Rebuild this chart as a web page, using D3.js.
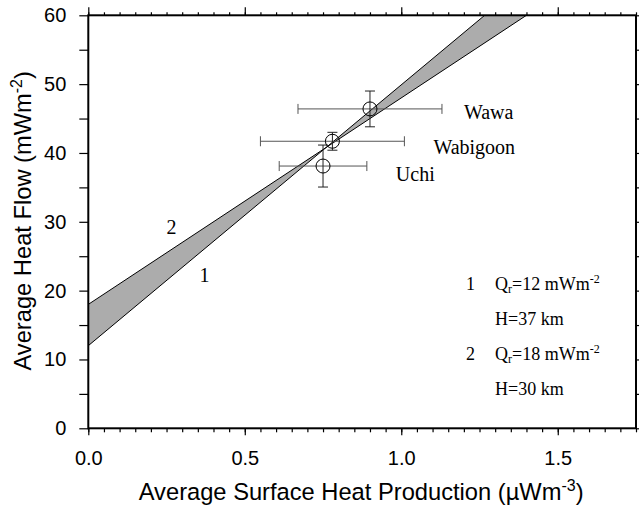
<!DOCTYPE html>
<html lang="en">
<head>
<meta charset="UTF-8">
<script src="https://d3js.org/d3.v7.min.js"></script>
<style>
  body { margin: 0; background: #fff; }
  .tick text { font-family: "Liberation Sans", Arial, sans-serif; font-size: 20px; fill: #000; }
  .title { font-family: "Liberation Sans", Arial, sans-serif; font-size: 23.7px; fill: #000; }
  .serif { font-family: "Liberation Serif", "Times New Roman", serif; fill: #000; }
</style>
</head>
<body>
<div id="chart"></div>
<script>
// provinces with average surface heat production and heat flow
const provinces = ["Uchi", "Wabigoon", "Wawa"];
const heatProduction = [0.75, 0.78, 0.90];
const heatProductionErr = [0.14, 0.23, 0.23];
const heatFlow = [38.1, 41.7, 46.4];
const heatFlowErr = [3.05, 1.3, 2.6];

// model lines q = Qr + slope * A
const modelIds = ["1", "2"];
const modelQr = [12, 18];
const modelSlope = [37.9, 30.0];
const modelH = [37, 30];

const xTicks = [0, 0.5, 1.0, 1.5];
const yTicks = [0, 10, 20, 30, 40, 50, 60];

const W = 639, H = 506;
const margin = { top: 15.3, right: 3, bottom: 77.7, left: 88.3 };
const innerW = W - margin.left - margin.right;
const innerH = H - margin.top - margin.bottom;

const svg = d3.select("#chart").append("svg")
    .attr("width", W).attr("height", H);

const g = svg.append("g")
    .attr("transform", `translate(${margin.left},${margin.top})`);

const x = d3.scaleLinear().domain([0, 1.75]).range([0, innerW]);
const y = d3.scaleLinear().domain([0, 60]).range([innerH, 0]);

g.append("clipPath").attr("id", "plotclip")
  .append("rect").attr("width", innerW).attr("height", innerH);

// band between the two model lines
const x0 = 0, x1 = 1.75;
const line = d3.line().x(d => x(d[0])).y(d => y(d[1]));
const band = [
  [x0, modelQr[0] + modelSlope[0] * x0],
  [x1, modelQr[0] + modelSlope[0] * x1],
  [x1, modelQr[1] + modelSlope[1] * x1],
  [x0, modelQr[1] + modelSlope[1] * x0]
];
const plot = g.append("g").attr("clip-path", "url(#plotclip)");
plot.append("path")
    .attr("d", line(band) + "Z")
    .attr("fill", "#acacac")
    .attr("stroke", "none");
modelIds.forEach((id, i) => {
  plot.append("path")
      .attr("d", line([[x0, modelQr[i] + modelSlope[i] * x0], [x1, modelQr[i] + modelSlope[i] * x1]]))
      .attr("fill", "none")
      .attr("stroke", "#000")
      .attr("stroke-width", 1);
});

// line labels
g.append("text").attr("class", "serif").attr("font-size", 20)
  .attr("x", x(0.25)).attr("y", y(28.2)).text(modelIds[1]);
g.append("text").attr("class", "serif").attr("font-size", 20)
  .attr("x", x(0.355)).attr("y", y(21.2)).text(modelIds[0]);

// error bars and points
const cap = 5;
const pts = g.append("g");
provinces.forEach((name, i) => {
  const cx = x(heatProduction[i]), cy = y(heatFlow[i]);
  const xl = x(heatProduction[i] - heatProductionErr[i]);
  const xr = x(heatProduction[i] + heatProductionErr[i]);
  const yt = y(heatFlow[i] + heatFlowErr[i]);
  const yb = y(heatFlow[i] - heatFlowErr[i]);
  const hs = "#555", vs = "#222";
  pts.append("line").attr("x1", xl).attr("x2", xr).attr("y1", cy).attr("y2", cy).attr("stroke", hs);
  pts.append("line").attr("x1", xl).attr("x2", xl).attr("y1", cy - cap).attr("y2", cy + cap).attr("stroke", hs);
  pts.append("line").attr("x1", xr).attr("x2", xr).attr("y1", cy - cap).attr("y2", cy + cap).attr("stroke", hs);
  pts.append("line").attr("x1", cx).attr("x2", cx).attr("y1", yt).attr("y2", yb).attr("stroke", vs);
  pts.append("line").attr("x1", cx - cap).attr("x2", cx + cap).attr("y1", yt).attr("y2", yt).attr("stroke", vs);
  pts.append("line").attr("x1", cx - cap).attr("x2", cx + cap).attr("y1", yb).attr("y2", yb).attr("stroke", vs);
  pts.append("circle").attr("cx", cx).attr("cy", cy).attr("r", 7)
     .attr("fill", "none").attr("stroke", "#000").attr("stroke-width", 1);
});

// province labels, placed right of the error bars
const labelOffset = [[29, 15], [29, 13], [22, 10]];
provinces.forEach((name, i) => {
  g.append("text").attr("class", "serif").attr("font-size", 20)
    .attr("x", x(heatProduction[i] + heatProductionErr[i]) + labelOffset[i][0])
    .attr("y", y(heatFlow[i]) + labelOffset[i][1])
    .text(name);
});

// legend
const leg = g.append("g").attr("class", "serif").attr("font-size", 18);
modelIds.forEach((id, i) => {
  const by = 290 - margin.top + i * 70;
  leg.append("text").attr("x", 466 - margin.left).attr("y", by).text(id);
  const t = leg.append("text").attr("x", 495 - margin.left).attr("y", by);
  t.append("tspan").text("Q");
  t.append("tspan").attr("font-size", 12).attr("dy", 3).text("r");
  t.append("tspan").attr("dy", -3).text(`=${modelQr[i]} mWm`);
  t.append("tspan").attr("font-size", 12).attr("dy", -7).text("-2");
  leg.append("text").attr("x", 495 - margin.left).attr("y", by + 35).text(`H=${modelH[i]} km`);
});

// axes
g.append("g").attr("transform", `translate(0,${innerH})`)
  .call(d3.axisBottom(x).tickValues(d3.range(0, 1.751, 0.05)).tickSize(4).tickFormat(""))
  .call(a => a.select(".domain").remove());
g.append("g").attr("transform", `translate(0,${innerH})`)
  .call(d3.axisBottom(x).tickValues(xTicks).tickSize(7).tickPadding(15.5).tickFormat(d3.format(".1f")))
  .call(a => a.select(".domain").remove());
g.append("g")
  .call(d3.axisTop(x).tickValues(d3.range(0, 1.751, 0.05)).tickSize(3).tickFormat(""))
  .call(a => a.select(".domain").remove());
g.append("g")
  .call(d3.axisTop(x).tickValues(xTicks).tickSize(8).tickFormat(""))
  .call(a => a.select(".domain").remove());
g.append("g")
  .call(d3.axisLeft(y).tickValues(d3.range(0, 61, 5)).tickSize(9).tickPadding(13)
    .tickFormat(d => yTicks.includes(d) ? d : ""))
  .call(a => a.select(".domain").remove());
g.append("g").attr("transform", `translate(${innerW},0)`)
  .call(d3.axisRight(y).tickValues(d3.range(0, 61, 5)).tickSize(9).tickFormat(""))
  .call(a => a.select(".domain").remove());
g.selectAll(".tick line").attr("stroke", "#000").attr("stroke-width", 1.2);

// frame
g.append("rect").attr("width", innerW).attr("height", innerH)
  .attr("fill", "none").attr("stroke", "#000").attr("stroke-width", 2);

// axis titles
const xt = svg.append("text").attr("class", "title")
  .attr("x", margin.left + innerW / 2 - 1).attr("y", 500).attr("text-anchor", "middle");
xt.append("tspan").text("Average Surface Heat Production (\u00b5Wm");
xt.append("tspan").attr("font-size", 16).attr("dy", -9).text("-3");
xt.append("tspan").attr("dy", 9).text(")");

const yt = svg.append("text").attr("class", "title")
  .attr("transform", `translate(31,${margin.top + innerH / 2 - 1}) rotate(-90)`)
  .attr("text-anchor", "middle");
yt.append("tspan").text("Average Heat Flow (mWm");
yt.append("tspan").attr("font-size", 16).attr("dy", -9).text("-2");
yt.append("tspan").attr("dy", 9).text(")");
</script>
</body>
</html>
